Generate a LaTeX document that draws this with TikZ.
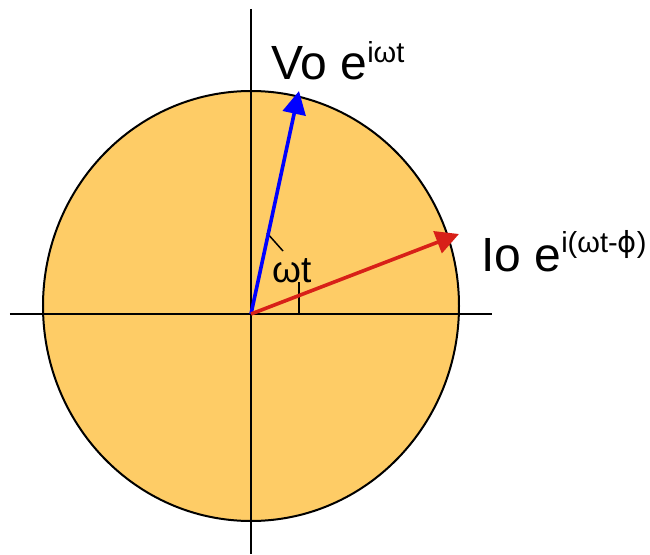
\documentclass[tikz,border=0pt]{standalone}
\usepackage{fontspec}
\setmainfont{Liberation Sans}
\newfontfamily\phifont{DejaVu Sans}
\usetikzlibrary{arrows.meta}
\definecolor{discFill}{RGB}{254,204,102}
\definecolor{phasorRed}{RGB}{216,32,24}

\begin{document}
\begin{tikzpicture}[x=1pt, y=1pt,
  axis/.style={line width=2pt},
  phasor/.style={line width=3.6pt, -{Triangle[length=23pt,width=23pt]}},
  marker/.style={line width=1.5pt},
  lbl/.style={anchor=base west, inner sep=0pt},
]
  \useasboundingbox (-251,-240) rectangle (399,314);
  \fill[discFill, draw=black, line width=2pt] (0,8) ellipse [x radius=208, y radius=215];

  \coordinate (O) at (0,0);
  \coordinate (xl) at (-241,0);
  \coordinate (xr) at (241,0);
  \coordinate (yt) at (0,305);
  \coordinate (yb) at (0,-240);
  \coordinate (vtip) at (48,223);
  \coordinate (itip) at (208,80);

  \draw[axis] (xl) -- (xr);
  \draw[axis] (yt) -- (yb);

  % angle markers
  \coordinate (wa) at (16,81);
  \coordinate (wb) at (32,63);
  \coordinate (pa) at (48,32);
  \coordinate (pb) at (48,0);
  \draw[marker] (wa) -- (wb);
  \draw[marker] (pa) -- (pb);

  \draw[phasor, blue] (O) -- (vtip);
  \draw[phasor, phasorRed] (O) -- (itip);

  \node[lbl, font=\fontsize{48}{48}\selectfont] (vlabel) at (20,234)
    {Vo e\raisebox{17pt}{\fontsize{29}{29}\selectfont iωt}};
  \node[lbl, font=\fontsize{48}{48}\selectfont] (ilabel) at (230,42)
    {Io e\raisebox{19pt}{\fontsize{29}{29}\selectfont i(ωt-{\phifont ϕ})}};
  \node[lbl, font=\fontsize{37}{37}\selectfont] (wlabel) at (21,32) {ωt};
\end{tikzpicture}
\end{document}
